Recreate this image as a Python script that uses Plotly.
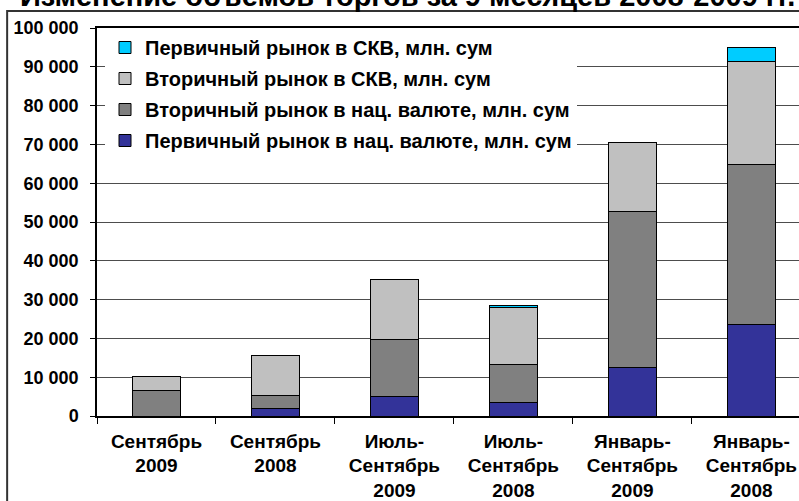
import plotly.graph_objects as go

categories = ["Сентябрь<br>2009", "Сентябрь<br>2008", "Июль-<br>Сентябрь<br>2009",
              "Июль-<br>Сентябрь<br>2008", "Январь-<br>Сентябрь<br>2009", "Январь-<br>Сентябрь<br>2008"]
primary_nat = [0, 1900, 5000, 3400, 12600, 23700]
secondary_nat = [6600, 3500, 14800, 9900, 40000, 41000]
secondary_fx = [3500, 10100, 15500, 14600, 17800, 26600]
primary_fx = [0, 0, 0, 600, 0, 3600]

series_names = ["Первичный рынок в нац. валюте, млн. сум",
                "Вторичный рынок в нац. валюте, млн. сум",
                "Вторичный рынок в СКВ, млн. сум",
                "Первичный рынок в СКВ, млн. сум"]
series_values = [primary_nat, secondary_nat, secondary_fx, primary_fx]
series_colors = ["#333399", "#808080", "#C0C0C0", "#00CCFF"]
legend_ranks = [4, 3, 2, 1]

title_text = "Изменение объемов торгов за 9 месяцев 2008-2009 гг."

FONT = "Liberation Sans, Arial, sans-serif"

fig = go.Figure()
for name, vals, col, rk in zip(series_names, series_values, series_colors, legend_ranks):
    fig.add_trace(go.Bar(
        x=categories, y=vals, name=name, legendgroup=name, legendrank=rk,
        marker=dict(color=col, line=dict(color="#000000", width=1)),
    ))

fig.update_layout(
    width=799, height=501,
    barmode="stack", bargap=0.6,
    margin=dict(l=97, r=0, t=28, b=83),
    paper_bgcolor="white", plot_bgcolor="white",
    font=dict(family=FONT, size=18, color="#000000"),
    separators=", ",
    showlegend=True,
    legend=dict(
        x=0.0114, y=1.0, xanchor="left", yanchor="top",
        bgcolor="white", borderwidth=0,
        traceorder="grouped", tracegroupgap=2,
        font=dict(family=FONT, size=20, color="#000000", weight="bold"),
    ),
    xaxis=dict(
        range=[-0.5, 5.4], showline=True, linecolor="#000000", linewidth=1.5,
        mirror=True, ticks="outside", tickson="boundaries", ticklen=6,
        tickcolor="#000000", showgrid=False,
        tickfont=dict(family=FONT, size=19, weight="bold"),
        ticklabelstandoff=7,
    ),
    yaxis=dict(
        range=[0, 100000], dtick=10000, tickformat=",d",
        showline=True, linecolor="#000000", linewidth=1.5,
        ticks="outside", ticklen=5, tickcolor="#000000",
        showgrid=True, gridcolor="#4d4d4d", gridwidth=1,
        zeroline=False,
        tickfont=dict(family=FONT, size=18, weight="bold"),
        ticklabelstandoff=8,
    ),
    annotations=[dict(
        text=title_text, xref="paper", yref="paper",
        x=0.443, y=1.083, xanchor="center", yanchor="middle",
        showarrow=False,
        font=dict(family=FONT, size=29, weight="bold", color="#000000"),
    )],
    shapes=[dict(
        type="rect", xref="paper", yref="paper",
        x0=-0.128, x1=1.05, y0=-0.4, y1=1.0436,
        line=dict(color="#333333", width=2), fillcolor="rgba(0,0,0,0)",
        layer="above",
    )],
)

fig.write_html("out.html", config={"displayModeBar": False},
               post_script="document.body.style.margin='0';")
